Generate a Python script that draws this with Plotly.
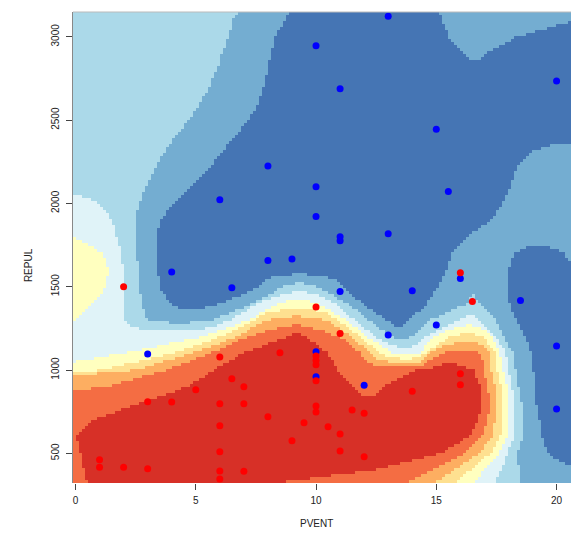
import numpy as np
import plotly.graph_objects as go

# ---- points (PVENT, REPUL) ----
red_pvent = [2, 10, 6, 8.5, 10, 10, 10, 10, 6.5, 7, 5, 3, 4, 6, 7, 10, 10, 8, 9.5, 6, 9, 6,
             1, 1, 2, 3, 6, 7, 6, 16, 16.5, 11, 16, 16, 14, 11.5, 12, 10.5, 11, 11, 12]
red_repul = [1500, 1378, 1078, 1104, 1084, 1058, 1032, 936, 948, 900, 882, 810, 808, 798, 798, 784, 748, 720, 684, 666, 576, 510,
             462, 416, 416, 408, 394, 392, 346, 1584, 1412, 1220, 978, 912, 872, 760, 740, 660, 616, 514, 480]
blue_pvent = [10, 8, 10, 6, 10, 13, 11, 20, 15, 15.5, 13, 11, 11, 4, 8, 9, 6.5, 3, 10, 10,
              16, 11, 14, 18.5, 15, 13, 20, 12, 20]
blue_repul = [2946, 2224, 2100, 2022, 1922, 3123, 2688, 2735, 2445, 2072, 1818, 1800, 1776, 1588, 1658, 1666, 1494, 1096, 1110, 960,
              1550, 1472, 1476, 1418, 1270, 1210, 1144, 908, 766]

# ---- background probability levels (1 = most red ... 9 = most blue) ----
level_colors = ['#D73027', '#F46D43', '#FDAE61', '#FEE090', '#FFFFBF',
                '#E0F3F8', '#ABD9E9', '#74ADD1', '#4575B4']

bg_rows_y = [320, 400, 500, 600, 700, 800, 900, 1000, 1100, 1200, 1300, 1400, 1500, 1600, 1700,
             1800, 1900, 2000, 2100, 2200, 2300, 2400, 2500, 2600, 2700, 2800, 2900, 3000, 3100, 3160]
# each row: runs of (level, PVENT where the run ends), read from left to right
bg_rows_runs = [
    [(2, 0.5), (1, 8.2), (2, 13.7), (3, 14.9), (4, 15.8), (5, 16.54), (6, 17.45), (7, 18.52), (8, 20.8)],
    [(2, 0.35), (1, 12.35), (2, 14.8), (3, 15.7), (4, 16.4), (5, 17.0), (6, 17.7), (7, 18.45), (8, 20.8)],
    [(2, 0.2), (1, 15.2), (2, 16.2), (3, 16.8), (4, 17.25), (5, 17.6), (6, 17.95), (7, 18.35), (8, 19.6), (9, 20.8)],
    [(2, 0.03), (1, 16.35), (2, 16.9), (3, 17.3), (4, 17.65), (5, 17.95), (6, 18.25), (7, 18.6), (8, 19.4), (9, 20.8)],
    [(2, 0.73), (1, 16.75), (2, 17.15), (3, 17.45), (4, 17.75), (5, 18.0), (6, 18.25), (7, 18.6), (8, 19.3), (9, 20.8)],
    [(2, 2.67), (1, 16.87), (2, 17.2), (3, 17.5), (4, 17.75), (5, 18.0), (6, 18.25), (7, 18.55), (8, 19.15), (9, 20.8)],
    [(3, 1.28), (2, 4.65), (1, 11.5), (2, 12.8), (1, 16.82), (2, 17.15), (3, 17.45), (4, 17.7), (5, 17.95), (6, 18.15),
     (7, 18.4), (8, 19.1), (9, 20.8)],
    [(5, 1.08), (4, 2.5), (3, 3.8), (2, 5.75), (1, 10.9), (2, 14.2), (1, 16.55), (2, 16.95), (3, 17.25), (4, 17.5),
     (5, 17.75), (6, 18.0), (7, 18.3), (8, 19.03), (9, 20.8)],
    [(6, 1.98), (5, 4.05), (4, 4.85), (3, 5.6), (2, 6.95), (1, 10.5), (2, 11.85), (3, 12.3), (4, 12.66), (5, 13.22),
     (6, 14.3), (5, 14.5), (4, 14.7), (3, 15.15), (2, 16.9), (3, 17.2), (4, 17.45), (5, 17.65), (6, 17.9), (7, 18.2),
     (8, 18.95), (9, 20.8)],
    [(6, 5.3), (5, 6.04), (4, 6.74), (3, 7.15), (2, 8.8), (1, 9.6), (2, 11.0), (3, 11.45), (4, 11.8), (5, 12.1),
     (6, 12.45), (7, 13.1), (8, 14.0), (7, 14.55), (6, 14.9), (5, 15.6), (4, 16.96), (5, 17.3), (6, 17.5), (7, 17.8),
     (8, 18.7), (9, 20.8)],
    [(5, -0.05), (6, 2.0), (7, 3.0), (8, 5.7), (7, 6.45), (6, 7.2), (5, 7.4), (4, 7.9), (3, 10.44), (4, 10.9), (5, 11.25),
     (6, 11.6), (7, 12.2), (8, 12.9), (9, 13.9), (8, 14.74), (7, 16.0), (6, 16.7), (7, 17.47), (8, 18.3), (9, 20.8)],
    [(5, 0.75), (6, 1.98), (7, 2.75), (8, 3.9), (9, 6.1), (8, 7.38), (7, 7.6), (6, 8.4), (5, 10.1), (6, 10.75),
     (7, 11.3), (8, 11.9), (9, 14.6), (8, 16.3), (7, 16.75), (8, 18.03), (9, 20.8)],
    [(5, 1.28), (6, 1.95), (7, 2.67), (8, 3.5), (9, 7.67), (8, 8.64), (7, 10.0), (8, 11.1), (9, 15.09), (8, 18.03), (9, 20.8)],
    [(5, 1.35), (6, 1.98), (7, 2.63), (8, 3.43), (9, 15.41), (8, 18.0), (9, 20.8)],
    [(5, 1.14), (6, 1.9), (7, 2.53), (8, 3.36), (9, 15.64), (8, 18.21), (9, 20.35), (8, 20.8)],
    [(5, -0.05), (6, 1.70), (7, 2.49), (8, 3.33), (9, 16.27), (8, 20.8)],
    [(6, 1.53), (7, 2.49), (8, 3.55), (9, 17.27), (8, 20.8)],
    [(6, 0.94), (7, 2.65), (8, 4.08), (9, 17.77), (8, 20.8)],
    [(7, 2.92), (8, 4.75), (9, 18.07), (8, 20.8)],
    [(7, 3.26), (8, 5.52), (9, 18.28), (8, 20.8)],
    [(7, 3.67), (8, 6.04), (9, 18.9), (8, 20.8)],
    [(7, 4.15), (8, 6.63), (9, 20.8)],
    [(7, 4.71), (8, 7.17), (9, 20.8)],
    [(7, 5.19), (8, 7.6), (9, 20.8)],
    [(7, 5.55), (8, 7.82), (9, 20.8)],
    [(7, 5.88), (8, 8.0), (9, 20.8)],
    [(7, 6.08), (8, 8.11), (9, 16.2), (8, 17.1), (9, 20.8)],
    [(7, 6.36), (8, 8.32), (9, 15.5), (8, 18.35), (9, 20.8)],
    [(7, 6.55), (8, 8.70), (9, 15.26), (8, 20.8)],
    [(7, 6.78), (8, 8.88), (9, 15.09), (8, 20.8)],
]

# ---- raster of image cells (about 3 px each, like the original image) ----
X_LO, X_HI, Y_LO, Y_HI = -0.104, 20.6, 322, 3149
DX, DY = 0.1247, 18.0
EDGE_L = -5.0
xc = X_LO + DX * (np.arange(int(np.ceil((X_HI - X_LO) / DX))) + 0.5)
yc = Y_LO + DY * (np.arange(int(np.ceil((Y_HI - Y_LO) / DY))) + 0.5)


def row_profile(runs, xs_out):
    xs, vs = [], []
    start = float(xs_out[0]) - 1.0
    for i, (lev, end) in enumerate(runs):
        if i == 0:
            xs.append(start)
            vs.append(lev)
        xs.append((start + end) / 2.0)
        vs.append(lev)
        if i < len(runs) - 1:
            xs.append(end)
            vs.append((lev + runs[i + 1][0]) / 2.0)
        else:
            xs.append(max(end, float(xs_out[-1])) + 1.0)
            vs.append(lev)
        start = end
    return np.interp(xs_out, xs, vs)


def intervals(runs, k, low=True):
    res = []
    start = EDGE_L
    for lev, end in runs:
        if (lev <= k) == low:
            if res and res[-1][1] == start:
                res[-1][1] = end
            else:
                res.append([start, end])
        start = end
    return res


def span(a):
    return (xc >= a[0]) & (xc < a[1])


def blend_mask(A, B, f, vmask):
    def over(a, b):
        return a[0] < b[1] and b[0] < a[1]
    ova = [[j for j, b in enumerate(B) if over(a, b)] for a in A]
    ovb = [[i for i, a in enumerate(A) if over(a, b)] for b in B]
    if any(len(o) > 1 for o in ova) or any(len(o) > 1 for o in ovb):
        return None
    m = np.zeros(len(xc), bool)
    for i, a in enumerate(A):
        if ova[i]:
            b = B[ova[i][0]]
            m |= span(((1 - f) * a[0] + f * b[0], (1 - f) * a[1] + f * b[1]))
        else:
            m |= vmask & span(a)
    for j, b in enumerate(B):
        if not ovb[j]:
            m |= vmask & span(b)
    return m


rows_y = np.array(bg_rows_y, float)
profiles = [row_profile(r, xc) for r in bg_rows_runs]

levels = np.ones((len(yc), len(xc)))
for j, y in enumerate(yc):
    i = int(np.clip(np.searchsorted(rows_y, y) - 1, 0, len(rows_y) - 2))
    f = float(np.clip((y - rows_y[i]) / (rows_y[i + 1] - rows_y[i]), 0.0, 1.0))
    ra, rb = bg_rows_runs[i], bg_rows_runs[i + 1]
    v = (1 - f) * profiles[i] + f * profiles[i + 1]
    lev = np.ones(len(xc))
    for k in range(1, 9):
        low = v < k + 0.5
        m = blend_mask(intervals(ra, k, True), intervals(rb, k, True), f, low)
        if m is not None:
            inside = m
        else:
            m = blend_mask(intervals(ra, k, False), intervals(rb, k, False), f, ~low)
            inside = ~m if m is not None else low
        lev += ~inside
    levels[j] = lev

cscale = []
for k, c in enumerate(level_colors):
    cscale.append([k / 9.0, c])
    cscale.append([(k + 1) / 9.0, c])

fig = go.Figure()
fig.add_trace(go.Heatmap(x=xc, y=yc, z=levels, colorscale=cscale, zmin=0.5, zmax=9.5,
                         zsmooth=False, showscale=False, hoverinfo='skip'))
fig.add_trace(go.Scatter(x=blue_pvent, y=blue_repul, mode='markers',
                         marker=dict(color='#0000FF', size=7, line=dict(width=0)), hoverinfo='skip'))
fig.add_trace(go.Scatter(x=red_pvent, y=red_repul, mode='markers',
                         marker=dict(color='#FF0000', size=7, line=dict(width=0)), hoverinfo='skip'))

fig.update_layout(
    width=571, height=533,
    margin=dict(l=73, r=0, t=12, b=50),
    paper_bgcolor='white', plot_bgcolor='white', showlegend=False,
    font=dict(family='Liberation Sans, Arial, sans-serif', size=10, color='#222'),
    annotations=[
        dict(text='PVENT', xref='paper', yref='paper', x=0.488, y=-0.085, showarrow=False,
             xanchor='center', yanchor='middle', font=dict(size=10)),
        dict(text='REPUL', xref='paper', yref='paper', x=-0.088, y=0.463, showarrow=False,
             xanchor='center', yanchor='middle', textangle=-90, font=dict(size=10)),
    ],
    shapes=[dict(type='line', xref='paper', yref='paper', x0=0, x1=1, y0=1, y1=1,
                 line=dict(color='#bbbbbb', width=1))],
)
fig.update_xaxes(range=[X_LO, X_HI], tickvals=[0, 5, 10, 15, 20], ticks='outside', ticklen=6,
                 tickcolor='#444', showgrid=False, zeroline=False, showline=False,
                 ticklabelstandoff=2)
fig.update_yaxes(range=[Y_LO, Y_HI], tickvals=[500, 1000, 1500, 2000, 2500, 3000], ticks='outside',
                 ticklen=6, tickcolor='#444', tickangle=-90, showgrid=False, zeroline=False,
                 showline=True, linecolor='#888888', linewidth=1, ticklabelstandoff=3)

fig.write_html('out.html')
